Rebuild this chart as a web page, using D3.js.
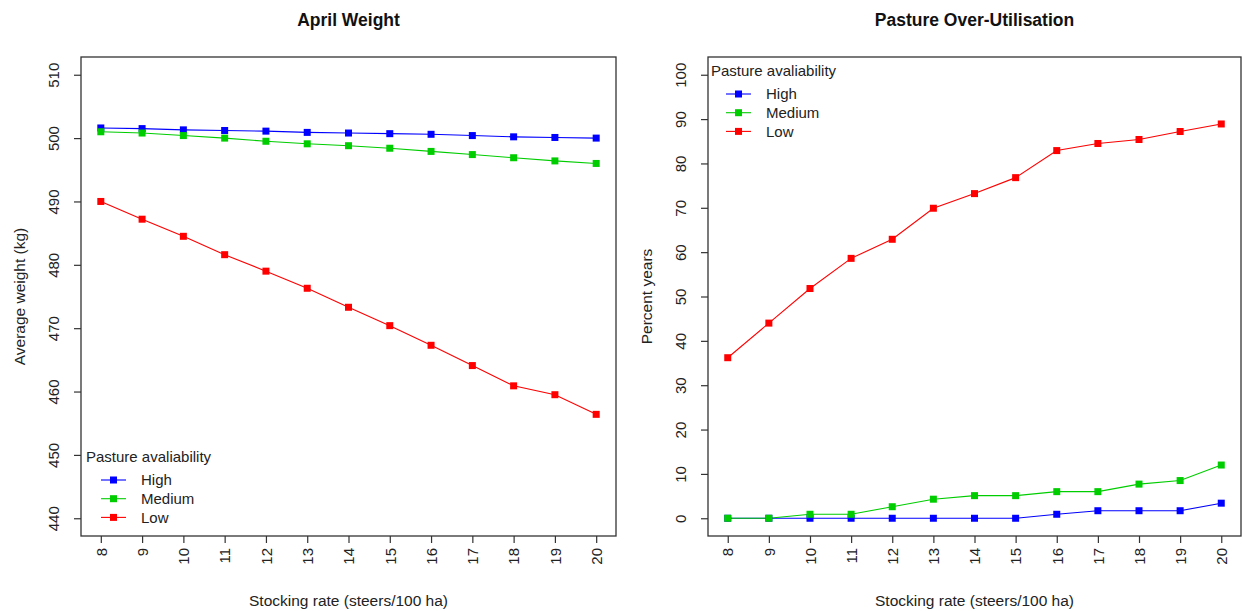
<!DOCTYPE html>
<html lang="en">
<head>
  <meta charset="UTF-8">
  <title>April Weight / Pasture Over-Utilisation</title>
  <style>
    body { margin: 0; background: #fff; }
    svg { font-family: "Liberation Sans", Arial, sans-serif; }
    .box { fill: none; stroke: #333; stroke-width: 1.3; }
    .axis line { stroke: #333; stroke-width: 1.2; }
    .axis text { fill: #222; font-size: 15px; }
    .axis path { display: none; }
  </style>
</head>
<body>
<div id="chart"></div>

<script src="https://cdn.jsdelivr.net/npm/d3@7"></script>
<script>
  // stocking rates (steers/100 ha)
  const stockingRate = [8, 9, 10, 11, 12, 13, 14, 15, 16, 17, 18, 19, 20];

  // April weight (kg)
  const weightHigh   = [501.6, 501.5, 501.3, 501.2, 501.1, 500.9, 500.8, 500.7, 500.6, 500.4, 500.2, 500.1, 500.0];
  const weightMedium = [501.0, 500.8, 500.4, 500.0, 499.5, 499.1, 498.8, 498.4, 497.9, 497.4, 496.9, 496.4, 496.0];
  const weightLow    = [490.0, 487.2, 484.5, 481.6, 479.0, 476.3, 473.3, 470.4, 467.3, 464.1, 460.9, 459.5, 456.4];

  // pasture over-utilisation (percent years)
  const overHigh   = [0, 0, 0, 0, 0, 0, 0, 0, 0.9, 1.7, 1.7, 1.7, 3.4];
  const overMedium = [0, 0, 0.9, 0.9, 2.6, 4.3, 5.1, 5.1, 6.0, 6.0, 7.7, 8.5, 12.0];
  const overLow    = [36.2, 44.0, 51.8, 58.6, 62.9, 69.9, 73.2, 76.8, 82.9, 84.5, 85.4, 87.2, 88.9];

  const weightTicks = [440, 450, 460, 470, 480, 490, 500, 510];
  const percentTicks = [0, 10, 20, 30, 40, 50, 60, 70, 80, 90, 100];

  const seriesNames = ["High", "Medium", "Low"];
  const seriesColors = ["#0000FF", "#00CD00", "#FF0000"];
  const legendTitle = "Pasture avaliability";
  const xTitle = "Stocking rate (steers/100 ha)";

  const width = 1243, height = 611;

  const svg = d3.select("#chart").append("svg")
    .attr("width", width)
    .attr("height", height);

  // R style axis extension of 4% on each side
  const extend = (lo, hi) => { const p = (hi - lo) * 0.04; return [lo - p, hi + p]; };

  function drawPanel(opts) {
    const g = svg.append("g");
    const xScale = d3.scaleLinear()
      .domain(extend(8, 20))
      .range([opts.left, opts.right]);
    const yScale = d3.scaleLinear()
      .domain(extend(opts.yMin, opts.yMax))
      .range([opts.bottom, opts.top]);

    // title
    g.append("text")
      .attr("x", (opts.left + opts.right) / 2)
      .attr("y", 26)
      .attr("text-anchor", "middle")
      .style("font-weight", "bold")
      .style("font-size", "17.5px")
      .attr("fill", "#111")
      .text(opts.title);

    // x axis
    const xAxis = g.append("g")
      .attr("class", "axis")
      .attr("transform", "translate(0," + opts.bottom + ")")
      .call(d3.axisBottom(xScale).tickValues(stockingRate).tickSize(7).tickFormat(d3.format("d")));
    xAxis.selectAll("text")
      .attr("transform", "rotate(-90)")
      .attr("x", -12)
      .attr("y", 0)
      .attr("dy", "0.35em")
      .style("text-anchor", "end");

    // y axis
    const yAxis = g.append("g")
      .attr("class", "axis")
      .attr("transform", "translate(" + opts.left + ",0)")
      .call(d3.axisLeft(yScale).tickValues(opts.yTicks).tickSize(7).tickFormat(d3.format("d")));
    yAxis.selectAll("text")
      .attr("transform", "rotate(-90)")
      .attr("x", 0)
      .attr("y", -27)
      .attr("dy", "0.35em")
      .style("text-anchor", "middle");

    // plot box
    g.append("rect")
      .attr("class", "box")
      .attr("x", opts.left)
      .attr("y", opts.top)
      .attr("width", opts.right - opts.left)
      .attr("height", opts.bottom - opts.top);

    // axis titles
    g.append("text")
      .attr("x", (opts.left + opts.right) / 2)
      .attr("y", 606)
      .attr("text-anchor", "middle")
      .style("font-size", "15.5px")
      .attr("fill", "#222")
      .text(xTitle);

    g.append("text")
      .attr("transform", "translate(" + (opts.left - 61) + "," + ((opts.top + opts.bottom) / 2) + ") rotate(-90)")
      .attr("dy", "0.35em")
      .attr("text-anchor", "middle")
      .style("font-size", "15.5px")
      .attr("fill", "#222")
      .text(opts.yTitle);

    // series
    const line = d3.line()
      .x(function(d, i) { return xScale(stockingRate[i]); })
      .y(function(d) { return yScale(d); });

    opts.series.forEach(function(values, k) {
      g.append("path")
        .datum(values)
        .attr("fill", "none")
        .attr("stroke", seriesColors[k])
        .attr("stroke-width", 1.1)
        .attr("d", line);
    });
    opts.series.forEach(function(values, k) {
      g.selectAll(".pt" + k)
        .data(values)
        .enter()
        .append("rect")
        .attr("x", function(d, i) { return xScale(stockingRate[i]) - 3.5; })
        .attr("y", function(d) { return yScale(d) - 3.5; })
        .attr("width", 7)
        .attr("height", 7)
        .attr("fill", seriesColors[k]);
    });

    // legend
    const lg = g.append("g")
      .attr("transform", "translate(" + opts.legendX + "," + opts.legendY + ")");
    lg.append("text")
      .attr("x", 0)
      .attr("y", 0)
      .attr("dy", "0.35em")
      .style("font-size", "15px")
      .attr("fill", "#222")
      .text(legendTitle);
    seriesNames.forEach(function(name, k) {
      const yy = 23 + k * 18.7;
      lg.append("line")
        .attr("x1", 15).attr("x2", 40)
        .attr("y1", yy).attr("y2", yy)
        .attr("stroke", seriesColors[k])
        .attr("stroke-width", 1.1);
      lg.append("rect")
        .attr("x", 27.5 - 3.5).attr("y", yy - 3.5)
        .attr("width", 7).attr("height", 7)
        .attr("fill", seriesColors[k]);
      lg.append("text")
        .attr("x", 55)
        .attr("y", yy)
        .attr("dy", "0.35em")
        .style("font-size", "15px")
        .attr("fill", "#222")
        .text(name);
    });
  }

  drawPanel({
    title: "April Weight",
    yTitle: "Average weight (kg)",
    left: 81, right: 616, top: 57, bottom: 536,
    yMin: 440, yMax: 510, yTicks: weightTicks,
    series: [weightHigh, weightMedium, weightLow],
    legendX: 86, legendY: 457
  });

  drawPanel({
    title: "Pasture Over-Utilisation",
    yTitle: "Percent years",
    left: 708, right: 1241, top: 57, bottom: 536,
    yMin: 0, yMax: 100, yTicks: percentTicks,
    series: [overHigh, overMedium, overLow],
    legendX: 711, legendY: 71
  });
</script>
</body>
</html>
